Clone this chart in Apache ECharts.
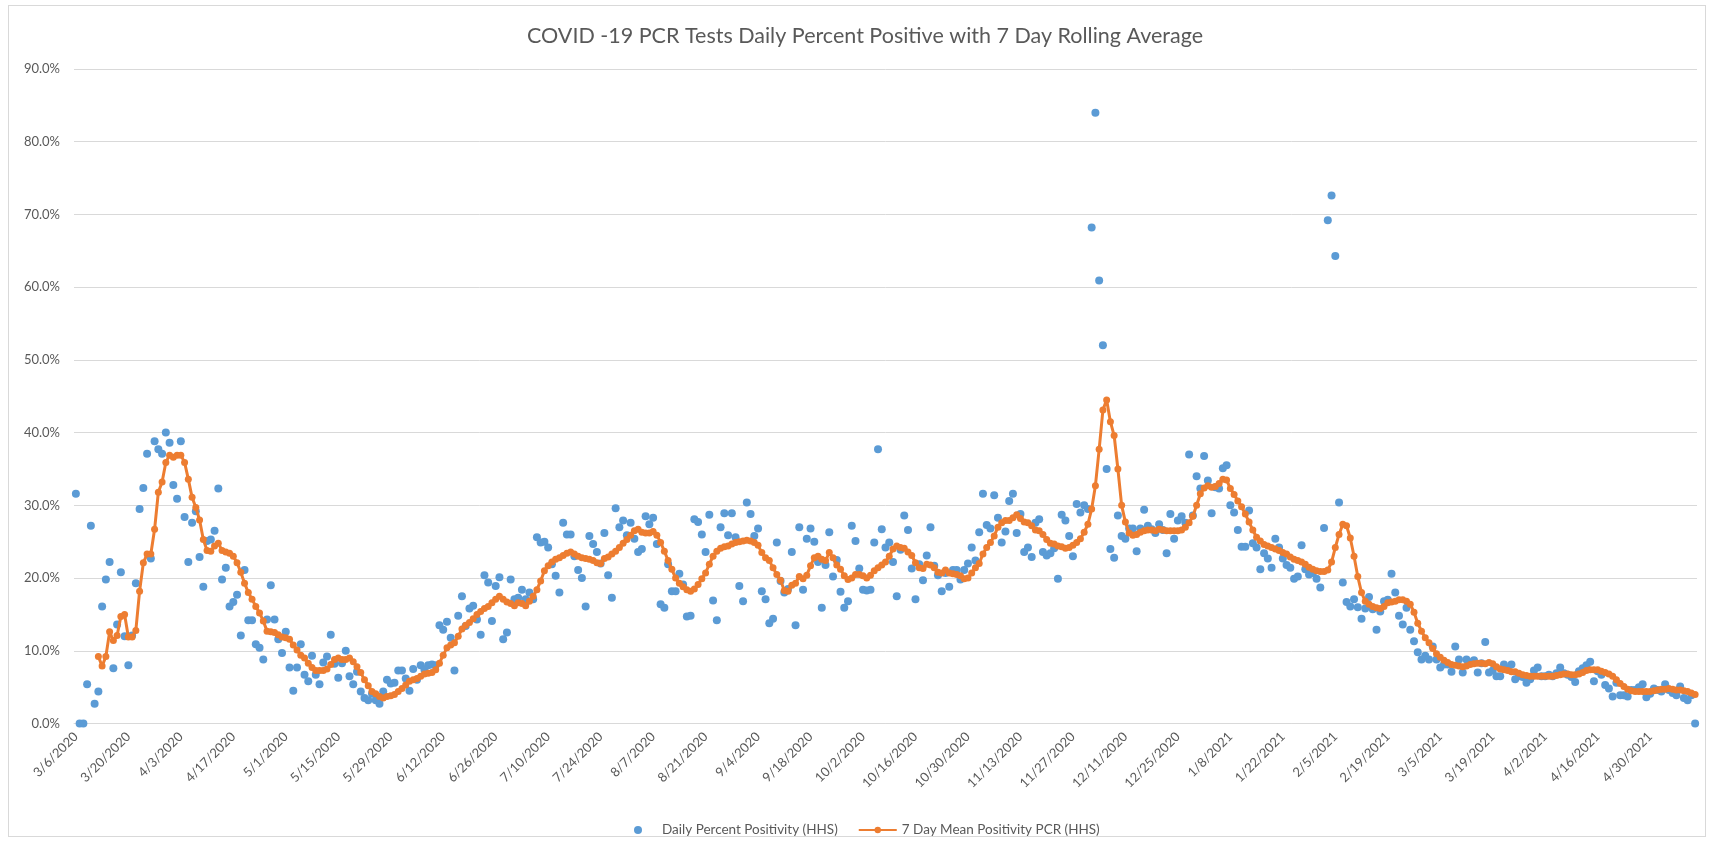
<!DOCTYPE html>
<html>
<head>
<meta charset="utf-8">
<script src="https://cdn.jsdelivr.net/npm/echarts@6/dist/echarts.min.js"></script>
<style>
  html, body { margin: 0; padding: 0; background: #ffffff; }
  #wrap { position: relative; width: 1714px; height: 844px; }
  #frame { position: absolute; left: 8px; top: 5px; width: 1698px; height: 832px; border: 1px solid #d9d9d9; box-sizing: border-box; pointer-events: none; }
  #chart { position: absolute; left: 0; top: 0; width: 1714px; height: 844px; }
</style>
</head>
<body>
<div id="wrap"><div id="chart"></div><div id="frame"></div></div>
<script>
// ---- data (percent values) ----
const titleText = 'COVID -19 PCR Tests Daily Percent Positive with 7 Day Rolling Average';
const seriesNames = ['Daily Percent Positivity (HHS)', '7 Day Mean Positivity PCR (HHS)'];
const firstDay = [2020, 3, 6];      // 3/6/2020
const labelEvery = 14;              // one date label every 14 days
const yTicks = [0, 10, 20, 30, 40, 50, 60, 70, 80, 90];

const dailyPositivity = [
  31.6, 0, 0, 5.4, 27.2, 2.7, 4.4, 16.1, 19.8, 22.2,
  7.6, 13.6, 20.8, 12.0, 8.0, 12.1, 19.3, 29.5, 32.4, 37.1,
  22.7, 38.8, 37.7, 37.1, 40.0, 38.6, 32.8, 30.9, 38.8, 28.4,
  22.2, 27.6, 29.2, 22.9, 18.8, 25.1, 25.3, 26.5, 32.3, 19.8,
  21.4, 16.1, 16.7, 17.7, 12.1, 21.1, 14.2, 14.2, 10.9, 10.4,
  8.8, 14.3, 19.0, 14.3, 11.6, 9.7, 12.6, 7.7, 4.5, 7.7,
  10.9, 6.7, 5.8, 9.3, 6.7, 5.4, 8.4, 9.2, 12.2, 8.2,
  6.3, 8.3, 10.0, 6.5, 5.4, 7.1, 4.4, 3.5, 3.2, 4.1,
  3.2, 2.7, 4.4, 6.0, 5.5, 5.6, 7.3, 7.3, 6.2, 4.5,
  7.5, 6.0, 8.0, 7.4, 8.0, 8.1, 8.0, 13.5, 12.9, 14.0,
  11.8, 7.3, 14.8, 17.5, 13.4, 15.8, 16.2, 14.3, 12.2, 20.4,
  19.4, 14.1, 18.9, 20.1, 11.6, 12.5, 19.8, 17.1, 17.3, 18.4,
  17.1, 18.0, 17.1, 25.6, 24.9, 25.0, 24.2, 21.9, 20.3, 18.0,
  27.6, 26.0, 26.0, 23.0, 21.1, 20.0, 16.1, 25.8, 24.7, 23.6,
  22.0, 26.2, 20.4, 17.3, 29.6, 27.0, 27.9, 25.9, 27.6, 25.4,
  23.6, 24.0, 28.5, 27.4, 28.3, 24.7, 16.4, 15.9, 21.9, 18.2,
  18.2, 20.6, 19.1, 14.7, 14.8, 28.1, 27.7, 26.0, 23.6, 28.7,
  16.9, 14.2, 27.0, 28.9, 25.9, 28.9, 25.6, 18.9, 16.8, 30.4,
  28.8, 25.8, 26.8, 18.2, 17.1, 13.8, 14.4, 24.9, 19.6, 18.0,
  18.5, 23.6, 13.5, 27.0, 18.4, 25.4, 26.8, 25.0, 22.2, 15.9,
  21.8, 26.3, 20.2, 22.5, 18.1, 15.9, 16.8, 27.2, 25.1, 21.3,
  18.4, 18.3, 18.4, 24.9, 37.7, 26.7, 24.2, 24.9, 22.2, 17.5,
  23.9, 28.6, 26.6, 21.3, 17.1, 21.9, 19.7, 23.1, 27.0, 21.7,
  20.4, 18.2, 20.7, 18.8, 21.1, 21.1, 19.8, 21.1, 22.0, 24.2,
  22.4, 26.3, 31.6, 27.3, 26.8, 31.4, 28.3, 24.9, 26.4, 30.6,
  31.6, 26.2, 28.8, 23.6, 24.2, 22.9, 27.6, 28.1, 23.6, 23.1,
  23.4, 24.1, 19.9, 28.7, 27.9, 25.8, 23.0, 30.2, 29.0, 30.0,
  29.5, 68.2, 84.0, 60.9, 52.0, 35.0, 24.0, 22.8, 28.6, 25.8,
  25.4, 26.8, 26.8, 23.7, 26.8, 29.4, 27.2, 26.7, 26.2, 27.4,
  26.6, 23.4, 28.8, 25.4, 27.9, 28.5, 27.6, 37.0, 28.6, 34.0,
  32.3, 36.8, 33.4, 28.9, 32.5, 32.3, 35.1, 35.5, 30.0, 29.0,
  26.6, 24.3, 24.3, 29.3, 24.8, 24.2, 21.2, 23.4, 22.7, 21.4,
  25.4, 24.2, 22.7, 21.8, 21.4, 19.9, 20.2, 24.5, 21.2, 20.5,
  20.7, 19.9, 18.7, 26.9, 69.2, 72.6, 64.3, 30.4, 19.4, 16.7,
  16.1, 17.1, 16.0, 14.4, 15.8, 17.4, 15.7, 12.9, 15.4, 16.8,
  17.0, 20.6, 18.0, 14.8, 13.6, 15.9, 12.9, 11.3, 9.8, 8.8,
  9.3, 8.8, 10.6, 8.8, 7.7, 8.1, 8.1, 7.1, 10.6, 8.8,
  7.0, 8.8, 8.4, 8.7, 7.0, 8.3, 11.2, 7.0, 7.3, 6.5,
  6.5, 8.1, 7.5, 8.1, 6.1, 6.5, 6.4, 5.6, 6.1, 7.3,
  7.7, 6.5, 6.5, 6.7, 6.5, 6.9, 7.7, 6.9, 6.7, 6.4,
  5.7, 7.2, 7.6, 8.0, 8.5, 5.8, 7.2, 6.7, 5.3, 4.8,
  3.7, 5.6, 3.9, 3.9, 3.7, 4.6, 4.6, 5.0, 5.4, 3.6,
  4.1, 4.8, 4.6, 4.4, 5.4, 4.6, 4.2, 3.9, 5.1, 3.5,
  3.2, 3.9, 0
];

const rollingMean = [
  null, null, null, null, null, null, 9.2, 7.9, 9.2, 12.6,
  11.4, 12.1, 14.7, 15.0, 11.9, 11.9, 12.8, 18.2, 22.1, 23.3,
  23.3, 26.7, 31.8, 33.2, 35.9, 36.9, 36.6, 36.9, 36.9, 35.9,
  33.6, 31.1, 29.7, 28.0, 25.3, 23.8, 23.7, 24.4, 24.8, 23.8,
  23.6, 23.4, 23.0, 22.1, 20.8, 19.3, 18.0, 17.1, 16.1, 15.2,
  14.1, 12.7, 12.6, 12.5, 12.2, 11.9, 11.8, 11.6, 10.8, 10.1,
  9.4, 9.0, 8.3, 7.7, 7.3, 7.3, 7.3, 7.5, 8.1, 8.8,
  9.0, 8.8, 8.8, 9.0, 8.5, 7.8, 7.0, 6.0, 5.2, 4.4,
  4.1, 3.7, 3.5, 3.7, 3.8, 4.0, 4.4, 4.8, 5.3, 5.8,
  6.0, 6.2, 6.5, 6.8, 6.9, 7.0, 7.4, 8.3, 9.4, 10.4,
  10.8, 11.1, 12.0, 13.0, 13.5, 13.9, 14.4, 15.0, 15.4, 15.8,
  16.1, 16.6, 17.1, 17.5, 17.1, 16.7, 16.5, 16.2, 16.6, 16.5,
  16.2, 16.8, 17.5, 18.4, 19.6, 21.0, 21.7, 22.2, 22.6, 22.8,
  23.1, 23.4, 23.6, 23.3, 23.0, 22.8, 22.7, 22.6, 22.4, 22.1,
  22.0, 22.7, 22.9, 23.3, 23.7, 24.2, 24.8, 25.3, 25.9, 26.5,
  26.7, 26.3, 26.2, 26.2, 26.4, 25.9, 24.9, 23.7, 22.4, 21.2,
  20.0, 19.3, 18.8, 18.4, 18.2, 18.5, 19.1, 19.9, 20.7, 21.9,
  23.0, 23.7, 24.1, 24.3, 24.4, 24.7, 24.9, 25.0, 25.1, 25.2,
  25.1, 24.9, 24.5, 23.5, 22.8, 22.4, 21.4, 20.5, 19.7, 18.3,
  18.2, 19.0, 19.3, 20.2, 19.9, 20.4, 21.7, 22.8, 23.0, 22.6,
  22.4, 23.5, 22.8, 21.8, 21.2, 20.3, 19.8, 20.0, 20.5, 20.5,
  20.3, 20.0, 20.4, 21.0, 21.4, 21.8, 22.2, 23.0, 24.0, 24.4,
  24.2, 24.1, 23.6, 23.1, 22.1, 21.4, 21.3, 21.9, 21.8, 21.4,
  20.8, 20.7, 21.1, 20.7, 20.6, 20.5, 20.3, 19.9, 20.0, 20.7,
  21.4, 22.0, 23.3, 24.2, 24.9, 25.8, 27.0, 27.6, 27.9, 27.9,
  28.3, 28.7, 28.2, 27.7, 27.6, 27.2, 26.6, 26.5, 26.0, 25.3,
  24.8, 24.7, 24.4, 24.3, 24.1, 24.2, 24.5, 24.9, 25.4, 26.3,
  27.4, 29.5, 32.7, 37.7, 43.1, 44.5, 41.5, 39.6, 35.0, 30.0,
  27.7, 26.2, 25.9, 26.0, 26.3, 26.5, 26.6, 26.6, 26.5, 26.7,
  26.6, 26.5, 26.5, 26.5, 26.5, 26.6, 27.0, 27.6, 28.5, 30.0,
  31.6, 32.4, 32.7, 32.5, 32.6, 33.0, 33.6, 33.5, 32.3, 31.5,
  30.6, 29.8, 28.8, 27.7, 26.6, 25.6, 25.1, 24.6, 24.4, 24.2,
  24.0, 23.8, 23.5, 23.3, 22.9, 22.6, 22.4, 22.2, 21.9, 21.5,
  21.2, 21.0, 20.9, 20.9, 21.1, 22.2, 24.2, 26.0, 27.4, 27.2,
  25.5, 23.0, 20.2, 18.0, 16.8, 16.4, 16.1, 15.9, 15.8, 16.1,
  16.6, 16.7, 16.8, 17.0, 17.0, 16.8, 16.4, 15.3, 13.8, 12.7,
  11.8, 11.1, 10.3, 9.6, 9.1, 8.7, 8.4, 8.1, 8.0, 7.9,
  7.8, 7.9, 8.1, 8.2, 8.3, 8.3, 8.2, 8.4, 8.2, 7.8,
  7.5, 7.4, 7.3, 7.1, 7.1, 6.9, 6.7, 6.6, 6.5, 6.5,
  6.5, 6.5, 6.5, 6.5, 6.5, 6.6, 6.7, 6.8, 6.8, 6.7,
  6.7, 6.8, 7.0, 7.3, 7.4, 7.4, 7.4, 7.2, 7.0, 6.8,
  6.5, 6.0, 5.5, 5.1, 4.7, 4.5, 4.4, 4.4, 4.4, 4.4,
  4.4, 4.5, 4.6, 4.7, 4.7, 4.8, 4.7, 4.6, 4.6, 4.5,
  4.4, 4.2, 4.0
];

// ---- category labels: one per day starting 3/6/2020 ----
const dates = [];
for (let i = 0; i < dailyPositivity.length; i++) {
  const d = new Date(Date.UTC(firstDay[0], firstDay[1] - 1, firstDay[2] + i));
  dates.push((d.getUTCMonth() + 1) + '/' + d.getUTCDate() + '/' + d.getUTCFullYear());
}

const FONT = 'Lato, "Open Sans", sans-serif';
const TEXT = '#595959';
const GRID = '#d9d9d9';

const chart = echarts.init(document.getElementById('chart'), null, { renderer: 'canvas' });
chart.setOption({
  animation: false,
  backgroundColor: '#ffffff',
  textStyle: { fontFamily: FONT },
  title: {
    text: titleText,
    left: 527,
    top: 25,
    padding: 0,
    textStyle: { fontFamily: FONT, fontSize: 21.5, fontWeight: 'normal', color: TEXT }
  },
  grid: { left: 74, right: 17, top: 69, bottom: 120.5 },
  xAxis: {
    type: 'category',
    data: dates,
    boundaryGap: true,
    axisLine: { show: true, lineStyle: { color: GRID, width: 1 } },
    axisTick: { show: false },
    splitLine: { show: false },
    axisLabel: {
      interval: labelEvery - 1,
      rotate: 45,
      margin: 11,
      color: TEXT,
      fontSize: 13,
      fontFamily: FONT
    }
  },
  yAxis: {
    type: 'value',
    min: yTicks[0],
    max: yTicks[yTicks.length - 1],
    interval: yTicks[1] - yTicks[0],
    axisLine: { show: false },
    axisTick: { show: false },
    splitLine: { show: true, lineStyle: { color: GRID, width: 1 } },
    axisLabel: {
      formatter: v => v.toFixed(1) + '%',
      color: TEXT,
      fontSize: 13,
      fontFamily: FONT,
      margin: 14
    }
  },
  legend: {
    data: seriesNames,
    left: 629,
    top: 818,
    itemWidth: 38,
    itemHeight: 8,
    itemGap: 20,
    textStyle: { color: TEXT, fontSize: 13.5, fontFamily: FONT }
  },
  series: [
    {
      name: seriesNames[0],
      type: 'scatter',
      data: dailyPositivity,
      symbol: 'circle',
      symbolSize: 8,
      itemStyle: { color: '#5B9BD5', opacity: 1 },
      z: 2
    },
    {
      name: seriesNames[1],
      type: 'line',
      data: rollingMean,
      symbol: 'circle',
      symbolSize: 7,
      showSymbol: true,
      showAllSymbol: true,
      connectNulls: false,
      lineStyle: { color: '#ED7D31', width: 3 },
      itemStyle: { color: '#ED7D31' },
      z: 3
    }
  ]
});
</script>
</body>
</html>
